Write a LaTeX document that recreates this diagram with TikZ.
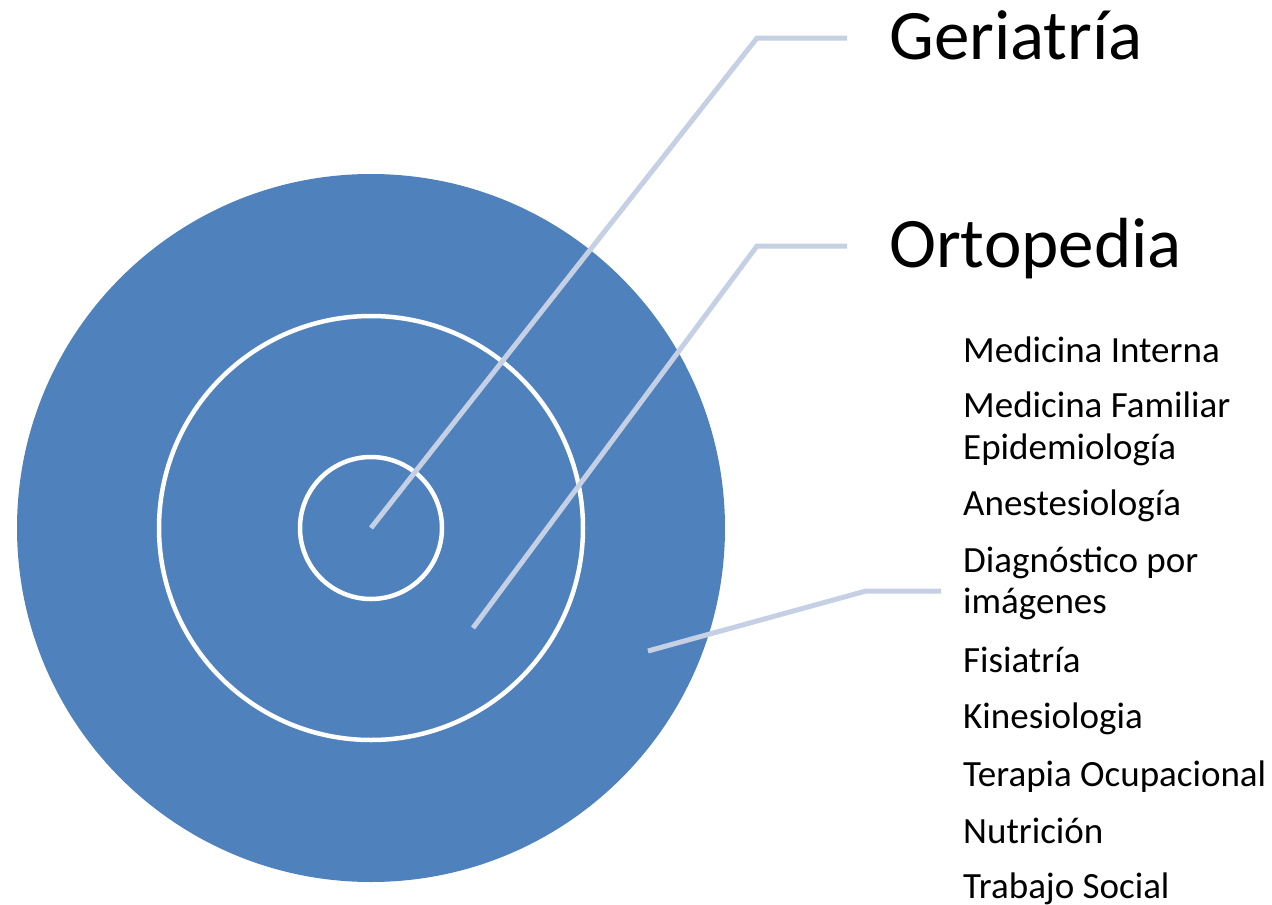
\documentclass[tikz,border=0pt]{standalone}
\usepackage{fontspec}
\setmainfont{Carlito}
\definecolor{RingClr}{RGB}{79,129,189}
\definecolor{LeadClr}{RGB}{197,208,228}

\begin{document}
\begin{tikzpicture}[x=1pt,y=-1pt,
  lead/.style={line width=5pt,color=LeadClr},
  ring/.style={draw=white,line width=4.5pt},
  bigtag/.style={anchor=base west,inner sep=0pt,font=\fontsize{71}{85}\selectfont},
  smalltag/.style={anchor=base west,inner sep=0pt,font=\fontsize{37}{44}\selectfont}]
\useasboundingbox (0,0) rectangle (1272,905);

\coordinate (O) at (371,528);
\fill[RingClr] (O) circle[radius=354pt];
\draw[ring] (O) circle[radius=212pt];
\draw[ring] (O) circle[radius=71pt];

% labels
\node[bigtag] (geri) at (889,59) {Geriatría};
\node[bigtag] (orto) at (889,267) {Ortopedia};
\foreach \y/\txt [count=\i] in {362/Medicina Interna,417/Medicina Familiar,
    459/Epidemiología,515/Anestesiología,572/Diagnóstico por,613/imágenes,
    672/Fisiatría,728/Kinesiologia,786/Terapia Ocupacional,843/Nutrición,
    898/Trabajo Social}
  \node[smalltag] (serv\i) at (963,\y) {\txt};

% leader lines
\coordinate (g1) at (757,38);
\coordinate (g2) at (847,38);
\coordinate (o0) at (473,628);
\coordinate (o1) at (757,246);
\coordinate (o2) at (847,246);
\coordinate (s0) at (648,651);
\coordinate (s1) at (866,591);
\coordinate (s2) at (941,591);
\draw[lead] (O) -- (g1) -- (g2);
\draw[lead] (o0) -- (o1) -- (o2);
\draw[lead] (s0) -- (s1) -- (s2);
\end{tikzpicture}
\end{document}
